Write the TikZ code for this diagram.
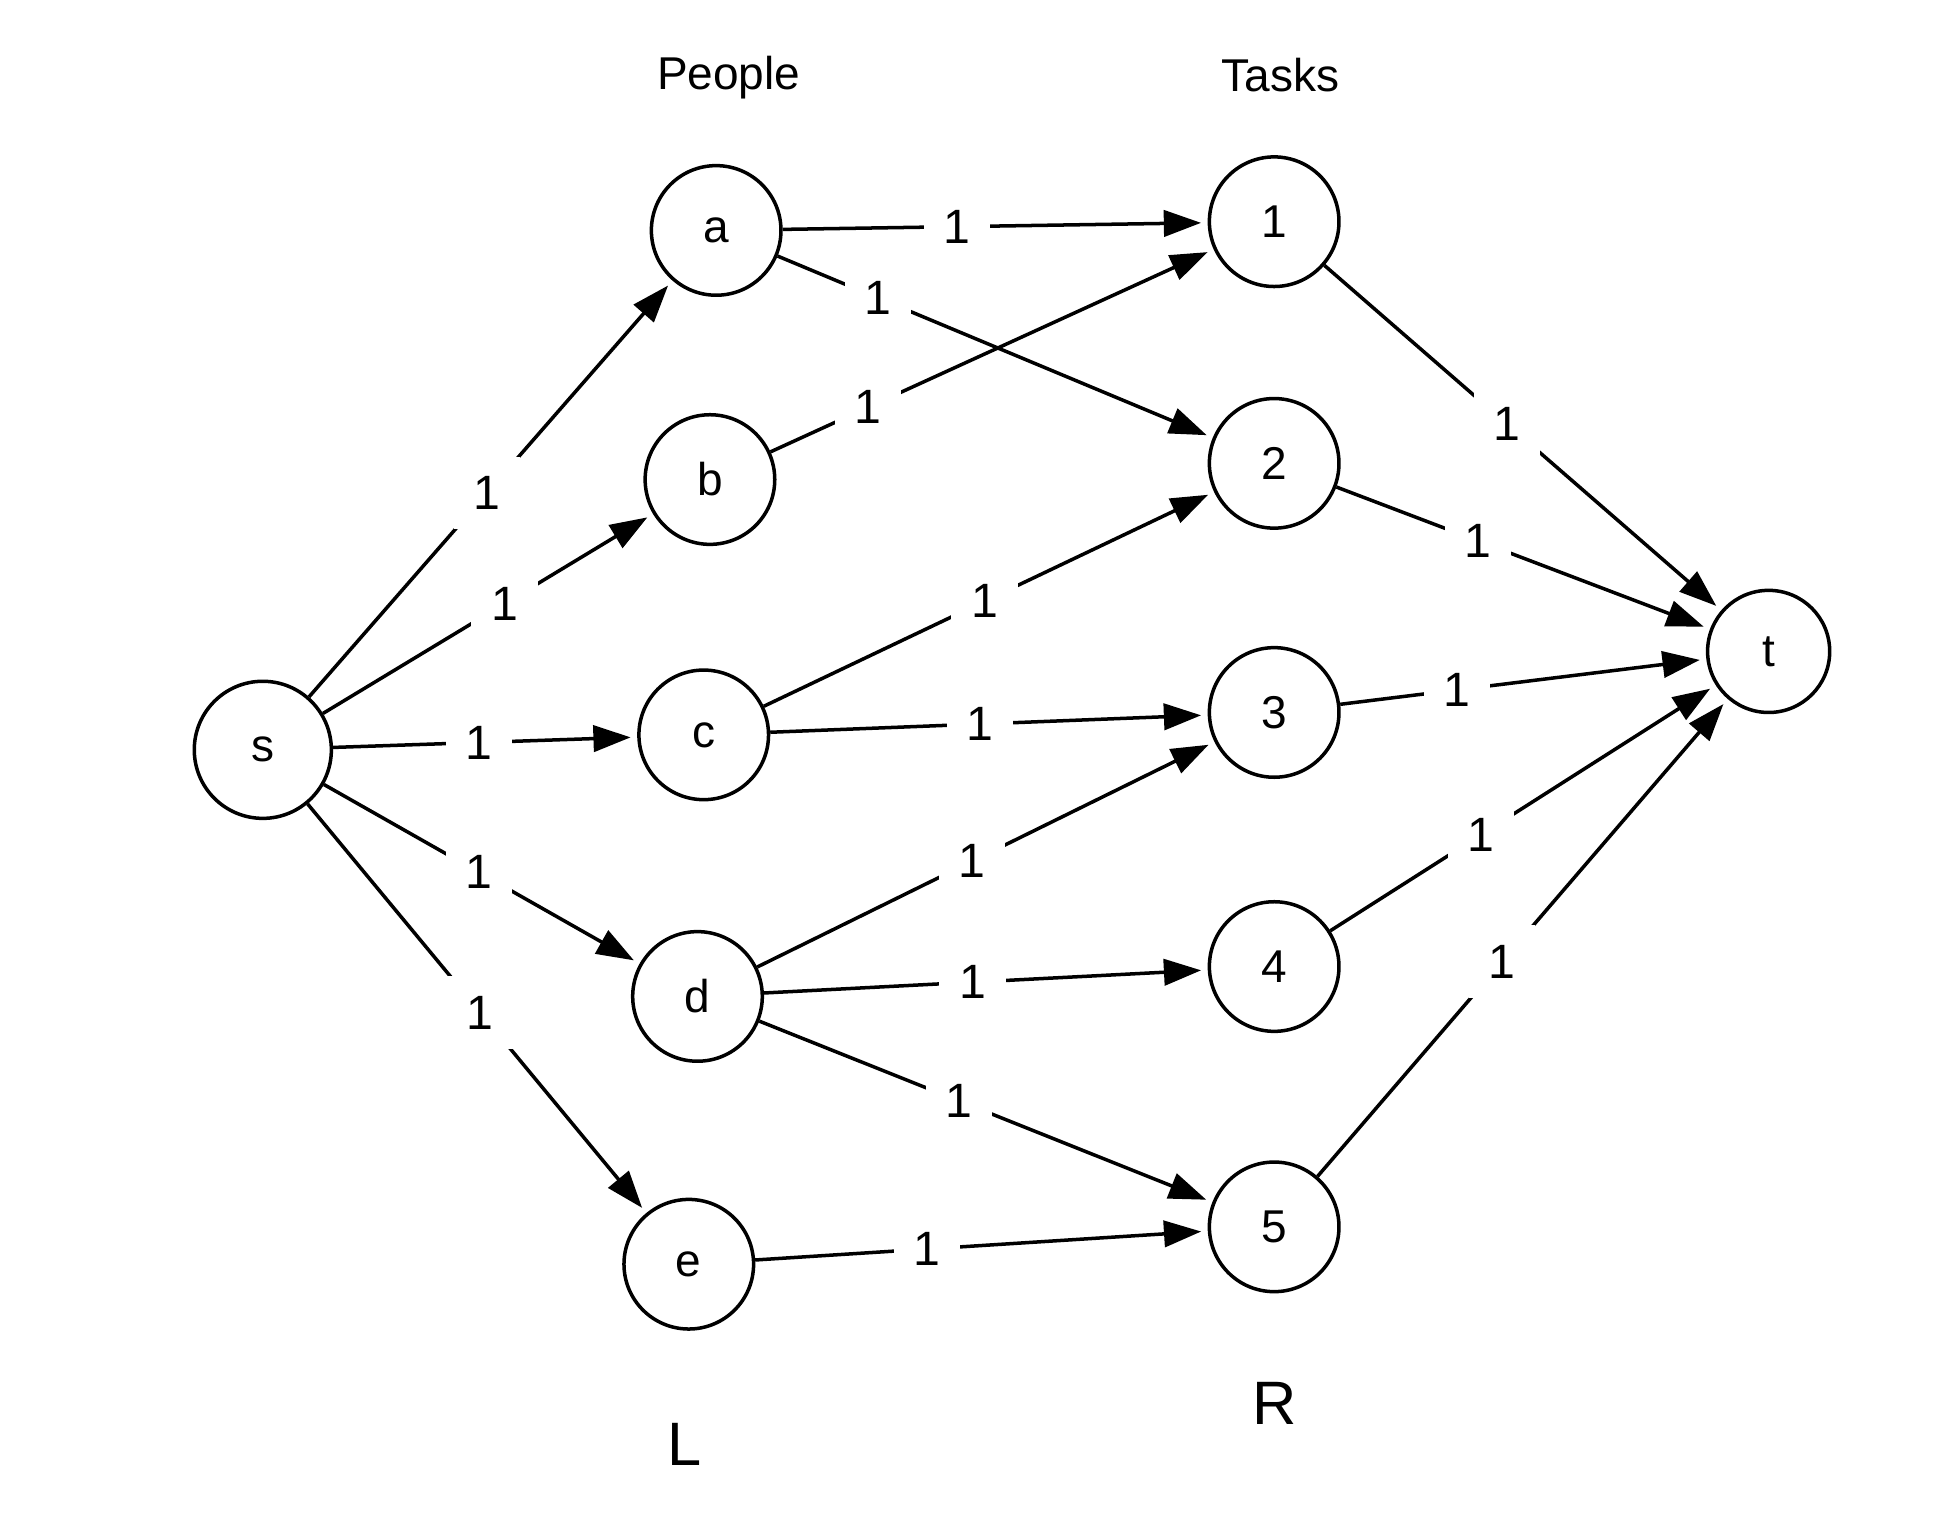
\documentclass[tikz,border=0pt]{standalone}
\usepackage{fontspec}
\setmainfont{Liberation Sans}
\usetikzlibrary{arrows.meta}
\begin{document}
\begin{tikzpicture}[x=0.01cm,y=-0.01cm,
  vert/.style={circle,draw,line width=0.8pt,minimum size=1.04cm,inner sep=0pt,font=\fontsize{10.5}{12}\selectfont},
  edge/.style={line width=0.8pt,-{Triangle[length=8.5pt,width=6pt]},shorten >=1.5pt},
  lab/.style={fill=white,inner sep=4.5pt,font=\fontsize{11}{12}\selectfont},
  head/.style={font=\fontsize{10.5}{12}\selectfont},
  side/.style={font=\fontsize{14}{16}\selectfont}]
\useasboundingbox[fill=white] (0,0) rectangle (1568,1233);
\node[vert,minimum size=1.1cm] (s) at (211,602) {s};
\node[vert] (a) at (575,185) {a};
\node[vert] (b) at (570,385) {b};
\node[vert] (c) at (565,590) {c};
\node[vert] (d) at (560,800) {d};
\node[vert] (e) at (553,1015) {e};
\node[vert] (n1) at (1023,178) {1};
\node[vert] (n2) at (1023,372) {2};
\node[vert] (n3) at (1023,572) {3};
\node[vert] (n4) at (1023,776) {4};
\node[vert] (n5) at (1023,985) {5};
\node[vert,minimum size=0.98cm] (t) at (1420,523) {t};
\node[head] (people) at (585,62) {People};
\node[head] (tasks) at (1028,60) {Tasks};
\node[side] (L) at (550,1160) {L};
\node[side] (R) at (1023,1127) {R};
\draw[edge] (s) -- node[lab,pos=0.49] {1} (a);
\draw[edge] (s) -- node[lab,pos=0.55] {1} (b);
\draw[edge] (s) -- node[lab,pos=0.48] {1} (c);
\draw[edge] (s) -- node[lab,pos=0.49] {1} (d);
\draw[edge] (s) -- node[lab,pos=0.51] {1} (e);
\draw[edge] (a) -- node[lab,pos=0.41] {1} (n1);
\draw[edge] (a) -- node[lab,pos=0.23] {1} (n2);
\draw[edge] (b) -- node[lab,pos=0.22] {1} (n1);
\draw[edge] (c) -- node[lab,pos=0.49] {1} (n2);
\draw[edge] (c) -- node[lab,pos=0.48] {1} (n3);
\draw[edge] (d) -- node[lab,pos=0.47] {1} (n3);
\draw[edge] (d) -- node[lab,pos=0.47] {1} (n4);
\draw[edge] (d) -- node[lab,pos=0.44] {1} (n5);
\draw[edge] (e) -- node[lab,pos=0.38] {1} (n5);
\draw[edge] (n1) -- node[lab,pos=0.46] {1} (t);
\draw[edge] (n2) -- node[lab,pos=0.38] {1} (t);
\draw[edge] (n3) -- node[lab,pos=0.32] {1} (t);
\draw[edge] (n4) -- node[lab,pos=0.39] {1} (t);
\draw[edge] (n5) -- node[lab,pos=0.45] {1} (t);
\end{tikzpicture}
\end{document}
